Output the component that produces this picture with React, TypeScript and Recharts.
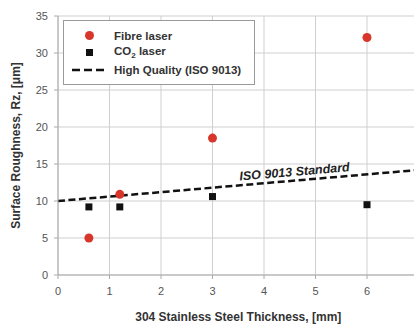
import React from 'react';
import {
  ScatterChart,
  Scatter,
  XAxis,
  YAxis,
  CartesianGrid,
  ReferenceLine,
  ReferenceDot,
  Legend,
} from 'recharts';

const fibreLaser = [
  { x: 0.6, y: 5.0 },
  { x: 1.2, y: 10.9 },
  { x: 3, y: 18.5 },
  { x: 6, y: 32.1 },
];

const co2Laser = [
  { x: 0.6, y: 9.2 },
  { x: 1.2, y: 9.2 },
  { x: 3, y: 10.6 },
  { x: 6, y: 9.5 },
];

// ISO 9013 high quality limit, end points
const isoLine = [
  { x: 0, y: 10 },
  { x: 7, y: 14.2 },
];

const xTicks = [0, 1, 2, 3, 4, 5, 6, 7];
const yTicks = [0, 5, 10, 15, 20, 25, 30, 35];

const FONT = 'Arial, "Liberation Sans", Helvetica, sans-serif';
const RED = '#d8362b';

const Circle = (p: any) => <circle cx={p.cx} cy={p.cy} r={4.5} fill={RED} />;
const Square = (p: any) => (
  <rect x={p.cx - 3.5} y={p.cy - 3.5} width={7} height={7} fill="#111" />
);

const IsoText = (p: any) => (
  <text
    x={p.cx}
    y={p.cy}
    textAnchor="middle"
    fontFamily={FONT}
    fontSize={12.5}
    fontWeight="bold"
    fontStyle="italic"
    fill="#222"
    transform={`rotate(-4.9 ${p.cx} ${p.cy})`}
  >
    ISO 9013 Standard
  </text>
);

const renderLegend = () => {
  const row: React.CSSProperties = { display: 'flex', alignItems: 'center', height: 17 };
  const icon: React.CSSProperties = { width: 50, display: 'flex', justifyContent: 'center' };
  return (
    <div
      style={{
        width: 190,
        height: 57,
        border: '1px solid #999',
        background: '#fff',
        fontFamily: FONT,
        fontSize: 11.5,
        fontWeight: 'bold',
        color: '#333',
        boxSizing: 'content-box',
        paddingTop: 6,
      }}
    >
      <div style={row}>
        <div style={icon}>
          <div style={{ width: 9, height: 9, borderRadius: '50%', background: RED }} />
        </div>
        <span>Fibre laser</span>
      </div>
      <div style={row}>
        <div style={icon}>
          <div style={{ width: 7, height: 7, background: '#111' }} />
        </div>
        <span>
          CO<sub style={{ fontSize: 8 }}>2</sub> laser
        </span>
      </div>
      <div style={row}>
        <div style={icon}>
          <svg width={34} height={4}>
            <line x1={0} y1={2} x2={34} y2={2} stroke="#111" strokeWidth={2.5} strokeDasharray="8 4" />
          </svg>
        </div>
        <span>High Quality (ISO 9013)</span>
      </div>
    </div>
  );
};

export default function App() {
  return (
    <div
      style={{
        position: 'absolute',
        left: 0,
        top: 0,
        width: 414,
        height: 329,
        overflow: 'hidden',
        background: '#fff',
      }}
    >
      <ScatterChart
        width={430}
        height={329}
        margin={{ top: 16, right: 11.5, left: 0, bottom: 0 }}
      >
        <CartesianGrid stroke="#cfcfcf" />
        <XAxis
          type="number"
          dataKey="x"
          domain={[0, 7]}
          ticks={xTicks}
          height={54}
          stroke="#aaa"
          tickSize={4}
          tickMargin={8}
          tick={{ fill: '#555', fontSize: 11, fontFamily: FONT }}
          label={{
            value: '304 Stainless Steel Thickness, [mm]',
            position: 'insideBottom',
            offset: 8,
            style: { fontFamily: FONT, fontSize: 12, fontWeight: 'bold', fill: '#333' },
          }}
        />
        <YAxis
          type="number"
          dataKey="y"
          domain={[0, 35]}
          ticks={yTicks}
          width={58}
          stroke="#aaa"
          tickSize={4}
          tickMargin={6}
          tick={{ fill: '#555', fontSize: 11, fontFamily: FONT }}
          label={{
            value: 'Surface Roughness, Rz, [\u03bcm]',
            angle: -90,
            position: 'insideLeft',
            offset: 16,
            style: { textAnchor: 'middle', fontFamily: FONT, fontSize: 12, fontWeight: 'bold', fill: '#333' },
          }}
        />
        <Legend
          layout="vertical"
          align="center"
          verticalAlign="middle"
          content={renderLegend}
          wrapperStyle={{ left: 63, top: 20, width: 192, height: 65 }}
        />
        <ReferenceLine
          segment={isoLine}
          stroke="#111"
          strokeWidth={2.5}
          strokeDasharray="7 3.5"
          ifOverflow="visible"
        />
        <ReferenceDot x={4.6} y={13.4} r={0} shape={IsoText} ifOverflow="visible" />
        <Scatter name="CO2 laser" data={co2Laser} shape={Square} isAnimationActive={false} />
        <Scatter name="Fibre laser" data={fibreLaser} shape={Circle} isAnimationActive={false} />
      </ScatterChart>
    </div>
  );
}
